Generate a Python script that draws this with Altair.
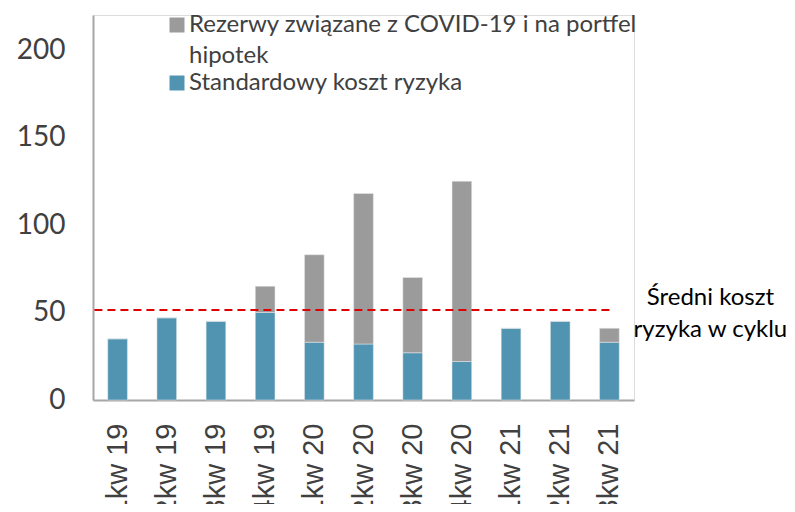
import altair as alt
import pandas as pd

quarters = ["1kw 19", "2kw 19", "3kw 19", "4kw 19", "1kw 20", "2kw 20",
            "3kw 20", "4kw 20", "1kw 21", "2kw 21", "3kw 21"]
standard_cost = [35, 47, 45, 50, 33, 32, 27, 22, 41, 45, 33]
covid_reserves = [0, 0, 0, 15, 50, 86, 43, 103, 0, 0, 8]
avg_cost = 51.4

lbl_covid = "Rezerwy związane z COVID-19 i na portfel hipotek"
lbl_std = "Standardowy koszt ryzyka"
annot_lines = ["Średni koszt", "ryzyka w cyklu"]

rows = []
for q, s, c in zip(quarters, standard_cost, covid_reserves):
    rows.append({"q": q, "series": lbl_std, "ord": 0, "value": s})
    rows.append({"q": q, "series": lbl_covid, "ord": 1, "value": c})
df = pd.DataFrame(rows)
avg_df = pd.DataFrame({"q": [quarters[-1]], "avg": [avg_cost]})

x_enc = alt.X("q:N", sort=quarters, title=None,
              scale=alt.Scale(paddingInner=0.6, paddingOuter=0.3),
              axis=alt.Axis(labelAngle=-90, labelFontSize=29, labelFont="Liberation Sans",
                            labelColor="#404040", labelPadding=23, ticks=False,
                            domainColor="#A6A6A6", domainWidth=2))

bars = alt.Chart(df).mark_bar(stroke="#E8E8E8", strokeWidth=0.5).encode(
    x=x_enc,
    y=alt.Y("value:Q", stack="zero", title=None,
            scale=alt.Scale(domain=[0, 220], nice=False),
            axis=alt.Axis(values=[0, 50, 100, 150, 200], labelFontSize=28, labelFont="Lato",
                          labelColor="#404040", labelPadding=28, ticks=False, grid=False,
                          domainColor="#A6A6A6", domainWidth=2)),
    color=alt.Color("series:N",
                    scale=alt.Scale(domain=[lbl_covid, lbl_std], range=["#9B9B9B", "#5094B2"]),
                    legend=alt.Legend(title=None, orient="none", legendX=72, legendY=-2,
                                      symbolType="square", symbolSize=225, symbolStrokeWidth=0,
                                      labelFontSize=24, labelFont="Lato", labelColor="#404040",
                                      labelOffset=0, rowPadding=3, labelLimit=600,
                                      labelExpr="datum.label == '" + lbl_covid + "' ? ['Rezerwy związane z COVID-19 i na portfel', 'hipotek'] : datum.label")),
    order=alt.Order("ord:Q"),
)

rule = alt.Chart(avg_df).mark_rule(color="#E00000", strokeWidth=2, strokeDash=[8, 5]).encode(
    x=alt.X("q:N", sort=quarters),
    x2=alt.value(0),
    y=alt.Y("avg:Q"),
)

annot = alt.Chart(avg_df).mark_text(text=annot_lines, fontSize=24, font="Lato", color="#000000",
                                    align="center", baseline="middle", lineHeight=32,
                                    dx=101, dy=-12).encode(
    x=alt.X("q:N", sort=quarters),
    y=alt.Y("avg:Q"),
)

chart = alt.layer(bars, rule, annot).properties(
    width=541, height=385,
    autosize=alt.AutoSizeParams(type="none"),
    padding={"left": 85, "top": 7, "right": 153, "bottom": 104},
).configure_view(stroke=None).configure(style={"guide-label": {"lineHeight": 31}})

chart.save("out.html", embed_options={"renderer": "svg", "actions": False})
